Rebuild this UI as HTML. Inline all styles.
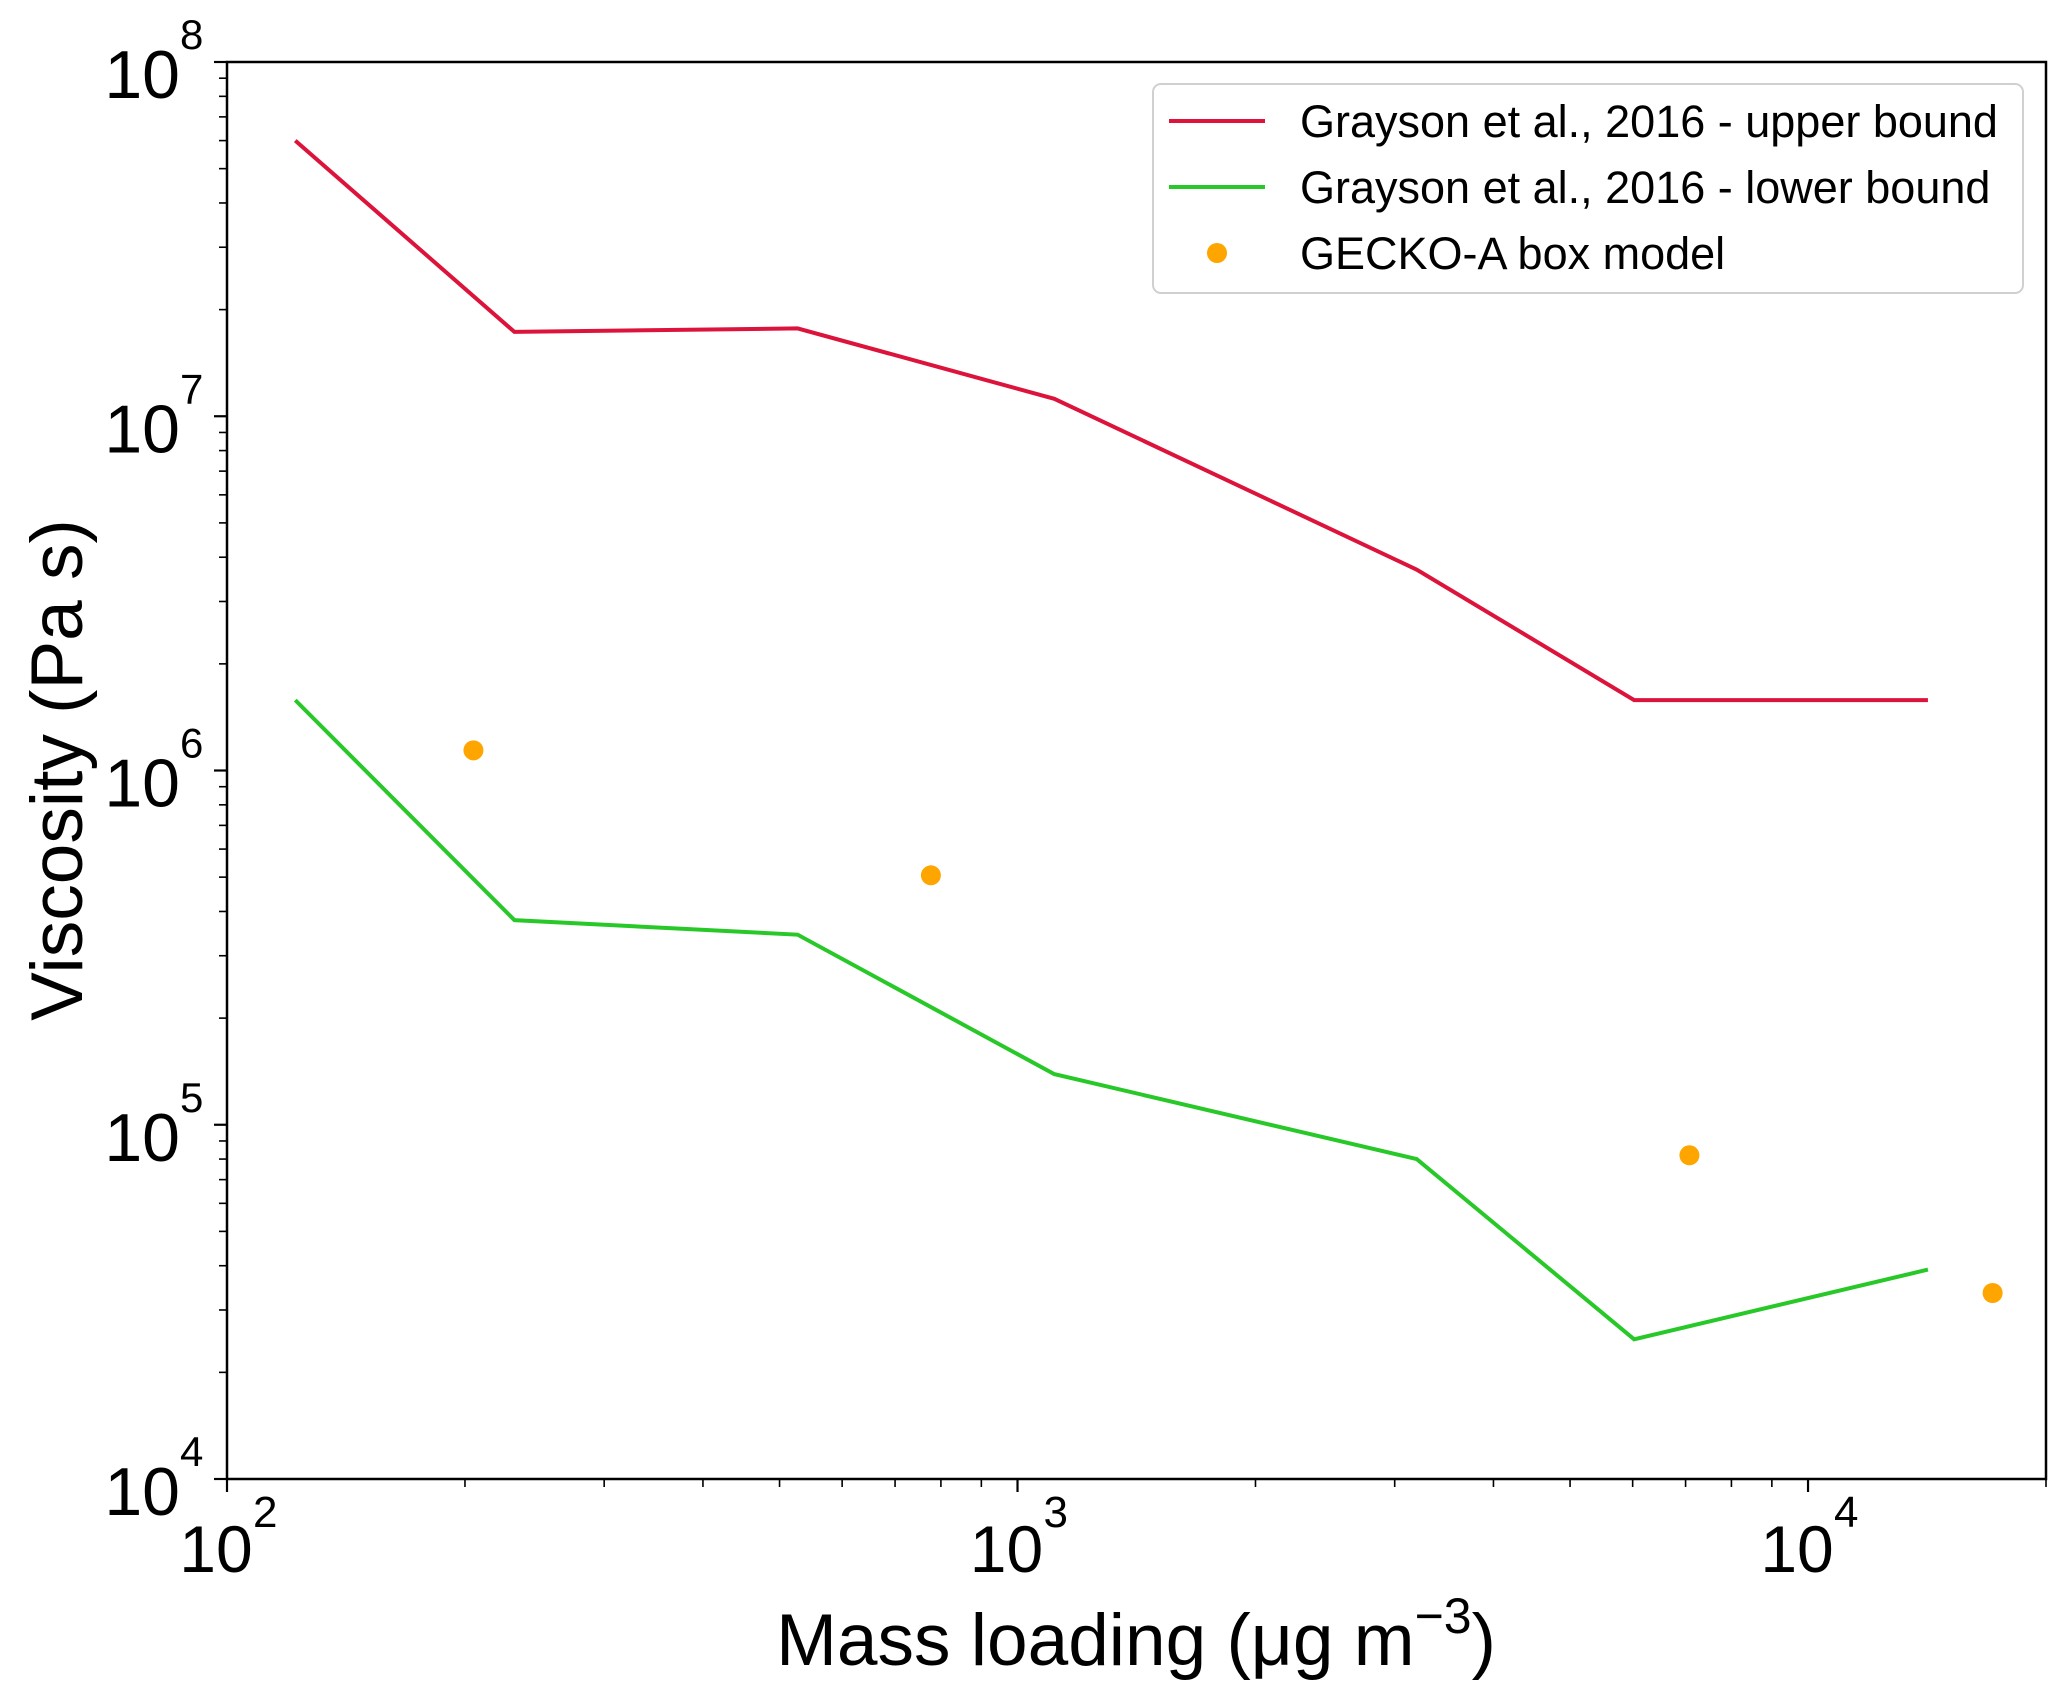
<!DOCTYPE html>
<html><head><meta charset="utf-8"><style>
html,body{margin:0;padding:0;background:#fff;}
svg{display:block;font-family:"Liberation Sans",Arial,sans-serif;}
</style></head><body>
<svg id="chart" width="2067" height="1698" viewBox="0 0 2067 1698" xmlns="http://www.w3.org/2000/svg">
<g id="series"></g>
<g id="axes"></g>
<g id="legend"></g>
</svg>
<script>
const upperX = [122, 231, 527, 1113, 3199, 6026, 14180];
const upperY = [6.0e7, 1.73e7, 1.77e7, 1.12e7, 3.69e6, 1.58e6, 1.58e6];
const lowerX = [122, 231, 527, 1113, 3199, 6026, 14180];
const lowerY = [1.58e6, 3.78e5, 3.44e5, 1.39e5, 8.0e4, 2.48e4, 3.9e4];
const geckoX = [205, 777, 7079, 17120];
const geckoY = [1.14e6, 5.06e5, 8.2e4, 3.35e4];
const xTickExps = [2, 3, 4];
const yTickExps = [4, 5, 6, 7, 8];
const legendLabels = ["Grayson et al., 2016 - upper bound", "Grayson et al., 2016 - lower bound", "GECKO-A box model"];

const L=227, R=2046, T=62, B=1479;
const xs = v => L + (Math.log10(v)-2)/(Math.log10(20000)-2)*(R-L);
const ys = v => B - (Math.log10(v)-4)/4*(B-T);
const NS="http://www.w3.org/2000/svg";
function mk(tag, attrs, parent){const e=document.createElementNS(NS,tag);for(const k in attrs)e.setAttribute(k,attrs[k]);parent.appendChild(e);return e;}
const series=document.getElementById('series'), axes=document.getElementById('axes'), legend=document.getElementById('legend');

function line(xa, ya, color, name){
  const p=mk('polyline',{points:xa.map((x,i)=>xs(x)+','+ys(ya[i])).join(' '),fill:'none',stroke:color,'stroke-width':4,'stroke-linejoin':'miter'},series);
  
  
}
line(upperX, upperY, '#dc143c', 'upper-bound-line');
line(lowerX, lowerY, '#28c828', 'lower-bound-line');
geckoX.forEach((x,i)=>{
  const c=mk('circle',{cx:xs(x),cy:ys(geckoY[i]),r:10,fill:'#ffa500'},series);
  
  
});

const fr=mk('rect',{x:L,y:T,width:R-L,height:B-T,fill:'none',stroke:'#000','stroke-width':2.5},axes);



for(let d=2; d<=4; d++){
  for(let m=1;m<=9;m++){
    const v=m*Math.pow(10,d); if(v>20000) break;
    const X=xs(v); const major=m===1;
    const t=mk('line',{x1:X,y1:B,x2:X,y2:B+(major?13:8),stroke:'#000','stroke-width':major?2.2:1.6},axes);
    
    
  }
}
xTickExps.forEach(e=>{
  const X=xs(Math.pow(10,e));
  const t=mk('text',{x:X-11,y:1572,'font-size':66,'text-anchor':'middle'},axes);
  t.textContent='10';
  
  
  const s=mk('text',{x:X+26,y:1527,'font-size':44},axes);
  s.textContent=String(e);
  
  
});
for(let d=4; d<=7; d++){
  for(let m=1;m<=9;m++){
    const v=m*Math.pow(10,d);
    const Y=ys(v); const major=m===1;
    const t=mk('line',{x1:L,y1:Y,x2:L-(major?13:8),y2:Y,stroke:'#000','stroke-width':major?2.2:1.6},axes);
    
    
  }
}
const tt=mk('line',{x1:L,y1:T,x2:L-13,y2:T,stroke:'#000','stroke-width':2.2},axes);


yTickExps.forEach(e=>{
  const Y=ys(Math.pow(10,e));
  const t=mk('text',{x:180,y:Y+36,'font-size':68,'text-anchor':'end'},axes);
  t.textContent='10';
  
  
  const s=mk('text',{x:180,y:Y-13,'font-size':42},axes);
  s.textContent=String(e);
  
  
});
const xt=mk('text',{x:1136,y:1665,'font-size':73,'text-anchor':'middle'},axes);
xt.innerHTML='Mass loading (μg m<tspan dy="-32" font-size="50">−3</tspan><tspan dy="32">)</tspan>';


const yt=mk('text',{x:0,y:0,'font-size':73,'text-anchor':'middle',transform:'translate(82,770) rotate(-90)'},axes);
yt.textContent='Viscosity (Pa s)';



const lb=mk('rect',{x:1153,y:84,width:870,height:209,rx:8,fill:'#fff',stroke:'#d0d0d0','stroke-width':2},legend);


const ly=[121,187,253], lc=['#dc143c','#28c828','#ffa500'];
legendLabels.forEach((lab,i)=>{
  if(i<2){
    const l=mk('line',{x1:1169,y1:ly[i],x2:1265,y2:ly[i],stroke:lc[i],'stroke-width':4},legend);
    
    
  } else {
    const c=mk('circle',{cx:1217,cy:ly[i],r:10,fill:lc[i]},legend);
    
    
  }
  const t=mk('text',{x:1300,y:ly[i]+16,'font-size':45},legend);
  t.textContent=lab;
  
  
});
</script>
</body></html>
